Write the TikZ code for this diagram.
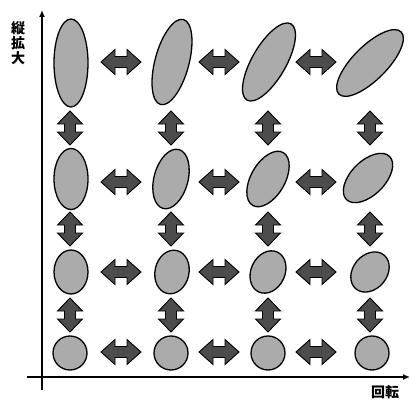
\documentclass[tikz,border=0pt]{standalone}
\usepackage{fontspec}
\newfontfamily\cjk{Noto Sans CJK JP}
\usetikzlibrary{shapes.geometric,arrows.meta}
\begin{document}
\begin{tikzpicture}[x=1pt,y=1pt,
  blob/.style={ellipse,draw=black,line width=1.3pt,fill=black!33,inner sep=0pt,minimum width=34pt},
  arrfill/.style={draw=black,line width=0.9pt,fill=black!70,line join=miter},
  axis/.style={line width=1.4pt,-{Latex[length=7pt,width=6pt]}},
  lab/.style={font=\cjk\bfseries\fontsize{14pt}{15pt}\selectfont,inner sep=0pt,align=center},
  harr/.pic={\path[arrfill] (-20,0) -- (-6,12.5) -- (-6,5.5) -- (6,5.5) -- (6,12.5) -- (20,0)
      -- (6,-12.5) -- (6,-5.5) -- (-6,-5.5) -- (-6,-12.5) -- cycle;},
  varr/.pic={\path[arrfill] (0,-17) -- (12.5,-4) -- (5.5,-4) -- (5.5,4) -- (12.5,4) -- (0,17)
      -- (-12.5,4) -- (-5.5,4) -- (-5.5,-4) -- (-12.5,-4) -- cycle;}]
\useasboundingbox (0,0) rectangle (410,400);
% axes
\coordinate (yb) at (42,10);
\coordinate (yt) at (42,390);
\coordinate (xl) at (27,23);
\coordinate (xr) at (410,23);
\draw[axis] (yb) -- (yt);
\draw[axis] (xl) -- (xr);
\node[lab] (ylab) at (18,357) {縦\\拡\\大};
\node[lab] (xlab) at (385,8) {回転};
% row 1
\node[blob,minimum height=88pt] (e11) at (71,337) {};
\node[blob,minimum height=88pt,rotate=-15] (e12) at (172,338) {};
\node[blob,minimum height=88pt,rotate=-30] (e13) at (269,338) {};
\node[blob,minimum height=88pt,rotate=-45] (e14) at (370,337) {};
% row 2
\node[blob,minimum height=61pt] (e21) at (71,221) {};
\node[blob,minimum height=61pt,rotate=-15] (e22) at (171,221) {};
\node[blob,minimum height=61pt,rotate=-30] (e23) at (268,221) {};
\node[blob,minimum height=61pt,rotate=-45] (e24) at (368,222) {};
% row 3
\node[blob,minimum height=44pt] (e31) at (71,128) {};
\node[blob,minimum height=44pt,rotate=-12] (e32) at (172,128) {};
\node[blob,minimum height=44pt,rotate=-25] (e33) at (268,128) {};
\node[blob,minimum height=44pt,rotate=-40] (e34) at (370,128) {};
% row 4
\node[blob,minimum height=34pt] (e41) at (70,47) {};
\node[blob,minimum height=34pt] (e42) at (171,47) {};
\node[blob,minimum height=34pt] (e43) at (268,47) {};
\node[blob,minimum height=34pt] (e44) at (372,47) {};
% horizontal arrows
\foreach \y in {338,218,128,48}{
  \pic at (121,\y) {harr};
  \pic at (219,\y) {harr};
  \pic at (316,\y) {harr};
}
% vertical arrows
\foreach \y in {272,171,85}{
  \pic at (70,\y) {varr};
  \pic at (171,\y) {varr};
  \pic at (268,\y) {varr};
  \pic at (370,\y) {varr};
}
\end{tikzpicture}
\end{document}
